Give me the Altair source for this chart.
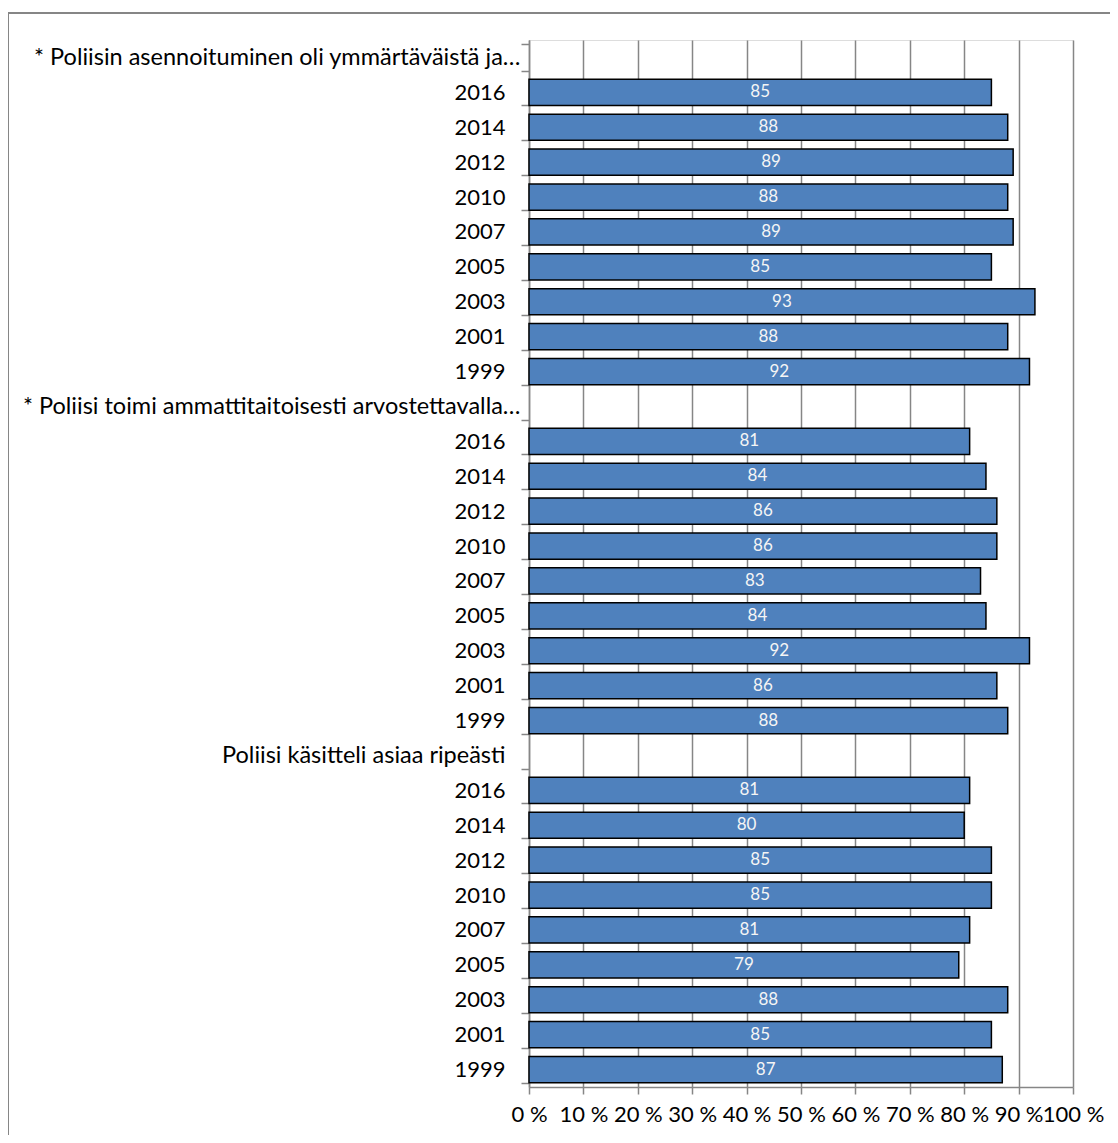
import altair as alt
import pandas as pd

headers = [
    "* Poliisin asennoituminen oli ymmärtäväistä ja…",
    "* Poliisi toimi ammattitaitoisesti arvostettavalla…",
    "Poliisi käsitteli asiaa ripeästi",
]
years = ["2016", "2014", "2012", "2010", "2007", "2005", "2003", "2001", "1999"]
values_g1 = [85, 88, 89, 88, 89, 85, 93, 88, 92]
values_g2 = [81, 84, 86, 86, 83, 84, 92, 86, 88]
values_g3 = [81, 80, 85, 85, 81, 79, 88, 85, 87]
x_ticks = [0, 10, 20, 30, 40, 50, 60, 70, 80, 90, 100]

rows = []
for gi, (h, vals) in enumerate(zip(headers, [values_g1, values_g2, values_g3])):
    kind = "T" if h.endswith("…") else "H"
    rows.append({"key": f"{gi}|{kind}|{h}", "value": None})
    for yr, v in zip(years, vals):
        rows.append({"key": f"{gi}|Y|{yr}", "value": v})
df = pd.DataFrame(rows)
order = list(df["key"])

FONT = "Lato"
GRAY = "#868686"

y_enc = alt.Y(
    "key:N",
    sort=order,
    title=None,
    scale=alt.Scale(domain=order, paddingInner=0.25, paddingOuter=0.125),
    axis=alt.Axis(
        labelExpr="split(datum.label,'|')[2]",
        labelFont=FONT,
        labelFontSize={"condition": {"test": "split(datum.label,'|')[1]!='Y'", "value": 23.5}, "value": 22},
        labelColor="#000000",
        labelLimit=0,
        labelPadding={"condition": {"test": "split(datum.label,'|')[1]=='T'", "value": 1}, "value": 16},
        tickBand="extent",
        tickSize=8,
        tickColor=GRAY,
        tickWidth=1.5,
        domainColor=GRAY,
        domainWidth=1.5,
        grid=False,
    ),
)
x_enc = alt.X(
    "value:Q",
    title=None,
    scale=alt.Scale(domain=[0, 100], nice=False),
    axis=alt.Axis(
        values=x_ticks,
        labelExpr="datum.value + ' %'",
        labelFont=FONT,
        labelFontSize=22,
        labelColor="#000000",
        labelFlush=False,
        labelOverlap=False,
        labelPadding=10,
        tickSize=7,
        tickColor=GRAY,
        tickWidth=1.5,
        domainColor=GRAY,
        domainWidth=1.5,
        grid=True,
        gridColor=GRAY,
        gridWidth=1.5,
    ),
)

base = alt.Chart(df)
bars = base.mark_bar(
    color="#4F81BD", stroke="#000000", strokeWidth=1.5
).encode(y=y_enc, x=x_enc)

texts = base.transform_filter("datum.value != null").transform_calculate(
    mid="datum.value / 2"
).mark_text(font=FONT, fontSize=17, color="#F5F5F5", baseline="middle", align="center").encode(
    y=y_enc,
    x=alt.X("mid:Q", title=None),
    text=alt.Text("value:Q"),
)

frame_data = alt.Data(values=[{"a": 1}])
top_line = alt.Chart(frame_data).mark_rule(color=GRAY, strokeWidth=2).encode(
    x=alt.value(-521), x2=alt.value(581), y=alt.value(-27)
)
left_line = alt.Chart(frame_data).mark_rule(color=GRAY, strokeWidth=2).encode(
    x=alt.value(-521), y=alt.value(-27), y2=alt.value(1095)
)

chart = alt.layer(bars, texts, top_line, left_line).properties(
    width=544,
    height=1047,
    padding={"left": 521, "top": 32, "right": 37, "bottom": 48},
    autosize=alt.AutoSizeParams(type="none"),
).configure_view(stroke=None).configure(background="#FFFFFF")

chart.save("out.html", embed_options={"renderer": "svg", "actions": False})
